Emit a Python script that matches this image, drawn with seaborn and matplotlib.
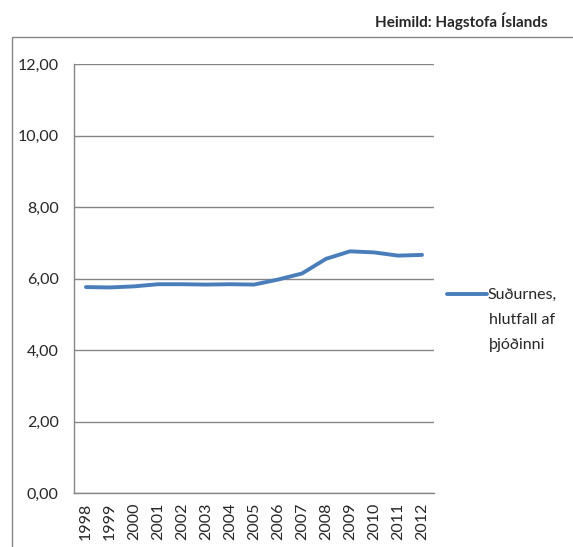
import matplotlib
matplotlib.use("Agg")
import matplotlib.pyplot as plt
import seaborn as sns
import pandas as pd
from matplotlib.patches import Rectangle
from matplotlib.ticker import FixedLocator, FuncFormatter

years = list(range(1998, 2013))
values = [5.76, 5.75, 5.78, 5.84, 5.84, 5.83, 5.84, 5.83, 5.97, 6.14, 6.55, 6.76, 6.73, 6.64, 6.66]
series_lines = ["Suðurnes,", "hlutfall af", "þjóðinni"]
title = "Heimild: Hagstofa Íslands"
yticks = [0, 2, 4, 6, 8, 10, 12]

sns.set_style("white")
plt.rcParams['font.family'] = ['Lato', 'DejaVu Sans']

W, H = 573, 547
fig = plt.figure(figsize=(W / 100, H / 100), dpi=100)
ax = fig.add_axes([74 / W, 54 / H, 360 / W, 429 / H])

df = pd.DataFrame({"year": years, "value": values})
sns.lineplot(data=df, x="year", y="value", ax=ax, color="#4A7EBB", linewidth=2.8,
             label=series_lines[0])

ax.set_xlim(1997.5, 2012.5)
ax.set_ylim(0, 12)
ax.set_xlabel("")
ax.set_ylabel("")
ax.yaxis.set_major_locator(FixedLocator(yticks))
ax.yaxis.set_major_formatter(FuncFormatter(lambda v, p: f"{v:.2f}".replace(".", ",")))
ax.xaxis.set_major_locator(FixedLocator(years))
ax.xaxis.set_major_formatter(FuncFormatter(lambda v, p: str(int(round(v)))))
ax.xaxis.set_minor_locator(FixedLocator([y + 0.5 for y in [1997] + years]))
ax.tick_params(axis="x", which="major", length=0, rotation=90, labelsize=11.5, pad=7)
ax.tick_params(axis="x", which="minor", length=5, color="#868686", width=1, direction="out")
ax.tick_params(axis="y", which="major", length=5, color="#868686", width=1, direction="out",
               labelsize=11.5, pad=6)
ax.grid(axis="y", color="#868686", linewidth=1)
ax.grid(axis="x", visible=False)
for s in ["top", "right"]:
    ax.spines[s].set_visible(False)
for s in ["left", "bottom"]:
    ax.spines[s].set_color("#868686")
    ax.spines[s].set_linewidth(1)

ax.legend(loc="center left", bbox_to_anchor=(447 / W, 1 - 295 / H), bbox_transform=fig.transFigure,
          frameon=False, fontsize=11.5, handlelength=2.5, handletextpad=0.05,
          borderaxespad=0, borderpad=0)
for i, line in enumerate(series_lines[1:]):
    fig.text(489 / W, 1 - (320 + 25 * i) / H, line, ha="left", va="center", fontsize=11.5)

fig.text(548 / W, 1 - 21 / H, title, ha="right", va="center", fontsize=11, fontweight="bold")

fig.patches.append(Rectangle((12 / W, -0.1), 1.2, 1 - 37 / H + 0.1, transform=fig.transFigure,
                             fill=False, edgecolor="#868686", linewidth=1))

fig.savefig("out.png", dpi=100)
